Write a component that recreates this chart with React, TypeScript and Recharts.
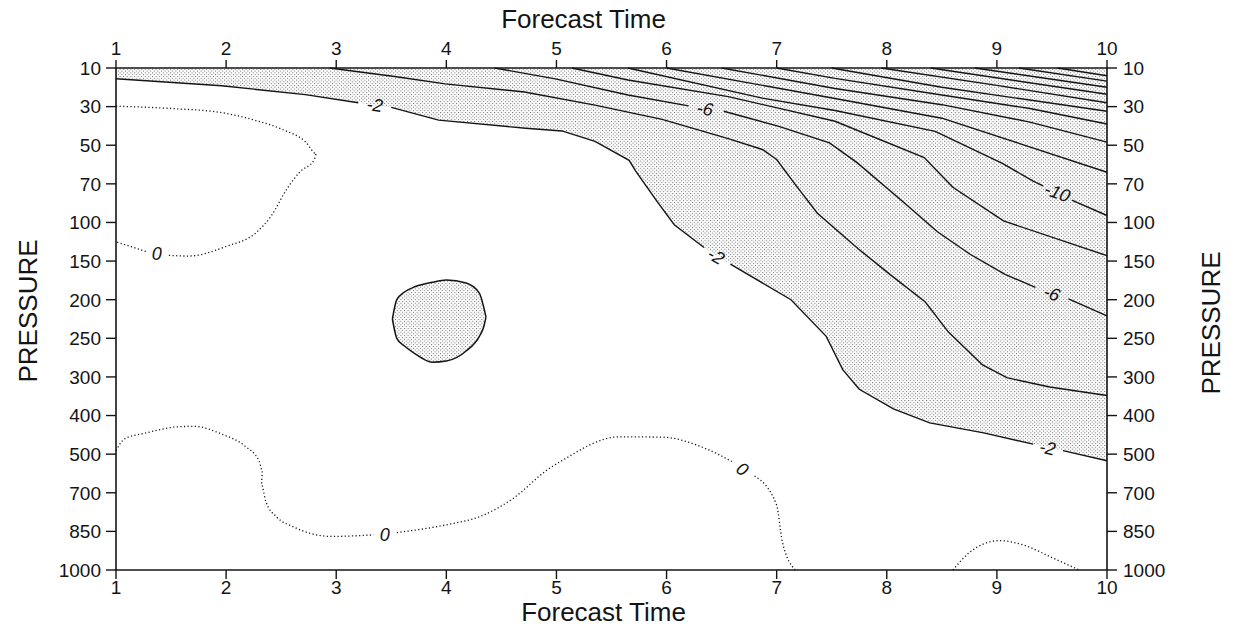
import React from 'react';
import { ComposedChart, Line, Area, XAxis, YAxis, ReferenceDot, Label } from 'recharts';

type Pt = { x: number; p: number | null };

// forecast time runs along x; pressure levels are evenly spaced rows (index 0 = 10 hPa)
const FORECAST_TIMES = [1, 2, 3, 4, 5, 6, 7, 8, 9, 10];
const PRESSURE_LEVELS = [10, 30, 50, 70, 100, 150, 200, 250, 300, 400, 500, 700, 850, 1000];
const LEVEL_TICKS = PRESSURE_LEVELS.map((_, i) => i);

const G = null; // break in a contour where its label sits

const pts = (rows: [number, number | null][]): Pt[] => rows.map(([x, p]) => ({ x, p }));

// solid contours (negative values)
const MINUS_2 = pts([
  [1, 0.28], [1.96, 0.46], [2.72, 0.69], [3.2, 0.9], [3.35, G], [3.5, 1.02], [3.93, 1.35],
  [4.72, 1.56], [5.05, 1.63], [5.35, 1.9], [5.66, 2.39], [5.72, 2.67], [5.91, 3.44],
  [6.07, 4.06], [6.34, 4.65], [6.45, G], [6.58, 5.08], [7.13, 6.0], [7.45, 6.95], [7.6, 7.81],
  [7.75, 8.32], [8.06, 8.83], [8.39, 9.19], [8.88, 9.45], [9.33, 9.74], [9.46, G],
  [9.6, 9.91], [10, 10.17],
]);
const MINUS_4 = pts([
  [2.94, 0], [3.53, 0.22], [3.99, 0.41], [4.71, 0.62], [5.35, 0.96], [5.96, 1.33],
  [6.56, 1.83], [6.87, 2.11], [7.0, 2.37], [7.18, 3.06], [7.37, 3.76], [7.74, 4.68],
  [8.04, 5.37], [8.35, 6.06], [8.56, 6.84], [8.87, 7.69], [9.09, 8.02], [9.48, 8.26], [10, 8.48],
]);
const MINUS_6 = pts([
  [4.44, 0], [4.99, 0.28], [5.65, 0.7], [6.2, 0.98], [6.35, G], [6.52, 1.12], [7.02, 1.51],
  [7.48, 1.94], [7.73, 2.45], [8.15, 3.47], [8.46, 4.24], [8.76, 4.83], [9.07, 5.34],
  [9.35, 5.68], [9.5, G], [9.65, 5.98], [10, 6.42],
]);
const MINUS_8 = pts([
  [5.14, 0], [5.65, 0.31], [6.56, 0.74], [7.53, 1.38], [8.34, 2.32], [8.6, 3.09],
  [9.06, 3.96], [10, 4.86],
]);
const MINUS_10 = pts([
  [5.65, 0], [6.87, 0.78], [7.53, 1.1], [8.44, 1.64], [9.05, 2.47], [9.33, 2.93],
  [9.42, 3.05], [9.55, G], [9.68, 3.42], [10, 3.82],
]);
const MINUS_12 = pts([[6.0, 0], [7.53, 0.79], [8.5, 1.3], [9.2, 1.95], [10, 2.7]]);
const MINUS_14 = pts([[6.5, 0], [7.53, 0.53], [8.5, 0.95], [9.3, 1.4], [10, 1.92]]);
const MINUS_16 = pts([[7.0, 0], [7.53, 0.27], [8.5, 0.7], [9.3, 1.05], [10, 1.45]]);
const MINUS_18 = pts([[7.5, 0], [8.5, 0.5], [10, 1.12]]);
const MINUS_20 = pts([[7.95, 0], [9, 0.45], [10, 0.9]]);
const MINUS_22 = pts([[8.4, 0], [10, 0.68]]);
const MINUS_24 = pts([[8.8, 0], [10, 0.5]]);
const MINUS_26 = pts([[9.2, 0], [10, 0.34]]);
const MINUS_28 = pts([[9.55, 0], [10, 0.2]]);

const SOLID_CONTOURS = [
  MINUS_2, MINUS_4, MINUS_6, MINUS_8, MINUS_10, MINUS_12, MINUS_14,
  MINUS_16, MINUS_18, MINUS_20, MINUS_22, MINUS_24, MINUS_26, MINUS_28,
];

// closed -2 cell in mid troposphere: x, upper edge, lower edge
const CELL_X = [3.51, 3.55, 3.62, 3.72, 3.87, 4.0, 4.18, 4.3, 4.34, 4.36];
const CELL_TOP = [6.5, 6.0, 5.8, 5.66, 5.55, 5.49, 5.57, 5.83, 6.2, 6.45];
const CELL_BOTTOM = [6.5, 7.0, 7.2, 7.41, 7.62, 7.59, 7.33, 6.95, 6.7, 6.45];

// zero contours (dotted)
const ZERO_UPPER = pts([
  [1, 0.99], [1.51, 1.05], [1.97, 1.16], [2.27, 1.36], [2.51, 1.59], [2.72, 1.91],
  [2.82, 2.22], [2.8, 2.38], [2.67, 2.69], [2.55, 3.14], [2.41, 3.83], [2.27, 4.27],
  [2.0, 4.62], [1.66, 4.87], [1.47, 4.85], [1.37, G], [1.27, 4.75], [1, 4.5],
]);
const ZERO_LOWER = pts([
  [1, 9.91], [1.08, 9.6], [1.26, 9.46], [1.57, 9.29], [1.71, 9.28], [1.96, 9.48],
  [2.17, 9.79], [2.3, 10.18], [2.33, 10.44], [2.32, 10.78], [2.36, 11.22], [2.46, 11.63],
  [2.61, 11.88], [2.95, 12.13], [3.34, 12.09], [3.44, G], [3.55, 12.03], [4.0, 11.83],
  [4.31, 11.61], [4.61, 11.14], [4.91, 10.42], [5.06, 10.15], [5.57, 9.55], [5.96, 9.56],
  [6.35, 9.85], [6.6, 10.2], [6.69, G], [6.8, 10.57], [7.0, 11.32], [7.05, 12.25], [7.17, 13],
]);
const ZERO_SURFACE = pts([
  [8.6, 13], [8.75, 12.55], [9.02, 12.24], [9.26, 12.37], [9.5, 12.68], [9.75, 13],
]);
const DOTTED_CONTOURS = [ZERO_UPPER, ZERO_LOWER, ZERO_SURFACE];

// contour labels: text, x, level index, rotation
const LABEL_TEXT = ['-2', '-2', '-2', '-6', '-6', '-10', '0', '0', '0'];
const LABEL_X = [3.35, 6.45, 9.46, 6.35, 9.5, 9.55, 1.37, 3.44, 6.69];
const LABEL_P = [0.95, 4.87, 9.83, 1.05, 5.83, 3.22, 4.81, 12.08, 10.38];
const LABEL_ANGLE = [8, 30, 12, 10, 20, 20, 0, 0, 35];

const shadedBand = MINUS_2.filter((d) => d.p !== null).map((d) => ({ x: d.x, band: [0, d.p] }));
const cellBand = CELL_X.map((x, i) => ({ x, band: [CELL_TOP[i], CELL_BOTTOM[i]] }));

const FONT = '"Liberation Sans", Arial, Helvetica, sans-serif';
const INK = '#141414';
const titleStyle = { fontSize: 26, fill: INK, fontFamily: FONT };
const axisLine = { stroke: INK, strokeWidth: 1.6 };
const tickLine = { stroke: INK, strokeWidth: 1.4 };

const levelLabel = (i: number) => String(PRESSURE_LEVELS[i]);

// tick text drawn by hand so the font size sticks
const makeTick = (format: (v: number) => string) => (props: any) => {
  const { x, y, payload, textAnchor, verticalAnchor } = props;
  const dy = verticalAnchor === 'start' ? '0.72em' : verticalAnchor === 'middle' ? '0.36em' : 0;
  return (
    <text
      x={x} y={y} dy={dy} textAnchor={textAnchor}
      fontSize={19} fill={INK} fontFamily={FONT}
    >
      {format(payload.value)}
    </text>
  );
};
const timeTick = makeTick((v) => String(v));
const levelTick = makeTick(levelLabel);

export default function App() {
  return (
    <div style={{ marginTop: -4 }}>
      <ComposedChart width={1222} height={624} margin={{ top: 4, right: 0, bottom: 0, left: 0 }}>
        <defs>
          <pattern id="stipple" width="3.6" height="3.6" patternUnits="userSpaceOnUse">
            <rect x="0" y="0" width="1" height="1" fill="#666" />
            <rect x="1.8" y="1.8" width="1" height="1" fill="#666" />
          </pattern>
        </defs>

        <XAxis
          xAxisId="b" type="number" dataKey="x" domain={[1, 10]} ticks={FORECAST_TIMES}
          height={58} tickSize={9} tickMargin={1} tick={timeTick}
          axisLine={axisLine} tickLine={tickLine}
        >
          <Label value="Forecast Time" position="insideBottom" offset={7} dx={-8} style={titleStyle} />
        </XAxis>
        <XAxis
          xAxisId="t" orientation="top" type="number" dataKey="x" domain={[1, 10]}
          ticks={FORECAST_TIMES} height={60} tickSize={8} tickMargin={5} tick={timeTick}
          axisLine={axisLine} tickLine={tickLine}
        >
          <Label value="Forecast Time" position="insideTop" offset={2} dx={-28} style={titleStyle} />
        </XAxis>
        <YAxis
          yAxisId="l" type="number" domain={[0, 13]} reversed ticks={LEVEL_TICKS}
          width={108} tickSize={10} tickMargin={5} tick={levelTick}
          axisLine={axisLine} tickLine={tickLine}
        >
          <Label value="PRESSURE" angle={-90} position="center" dx={-34} dy={-8} style={titleStyle} />
        </YAxis>
        <YAxis
          yAxisId="r" orientation="right" type="number" domain={[0, 13]} reversed ticks={LEVEL_TICKS}
          width={123} tickSize={10} tickMargin={6} tick={levelTick}
          axisLine={axisLine} tickLine={tickLine}
        >
          <Label value="PRESSURE" angle={-90} position="center" dx={42} dy={4} style={titleStyle} />
        </YAxis>

        {/* stippled region beyond the -2 contour, tied to the top/right axes (same scales) */}
        <Area
          xAxisId="t" yAxisId="r" data={shadedBand} dataKey="band" type="linear"
          stroke="none" fill="url(#stipple)" fillOpacity={1} isAnimationActive={false}
        />
        <Area
          xAxisId="b" yAxisId="l" data={cellBand} dataKey="band" type="monotone"
          stroke={INK} strokeWidth={1.5} fill="url(#stipple)" fillOpacity={1} isAnimationActive={false}
        />

        {SOLID_CONTOURS.map((d, i) => (
          <Line
            key={`solid-${i}`} xAxisId="b" yAxisId="l" data={d} dataKey="p" type="linear"
            stroke={INK} strokeWidth={1.4} dot={false} activeDot={false} isAnimationActive={false}
          />
        ))}
        {DOTTED_CONTOURS.map((d, i) => (
          <Line
            key={`dotted-${i}`} xAxisId="b" yAxisId="l" data={d} dataKey="p" type="monotone"
            stroke={INK} strokeWidth={1.3} strokeDasharray="1.2 2.4" dot={false} activeDot={false}
            isAnimationActive={false}
          />
        ))}

        {LABEL_TEXT.map((t, i) => (
          <ReferenceDot
            key={`lbl-${i}`} xAxisId="b" yAxisId="l" x={LABEL_X[i]} y={LABEL_P[i]} r={0}
            fill="none" stroke="none" ifOverflow="visible"
            label={{
              value: t, position: 'center', angle: LABEL_ANGLE[i],
              style: { fontSize: 18, fontStyle: 'italic', fill: INK, fontFamily: FONT },
            }}
          />
        ))}
      </ComposedChart>
    </div>
  );
}
